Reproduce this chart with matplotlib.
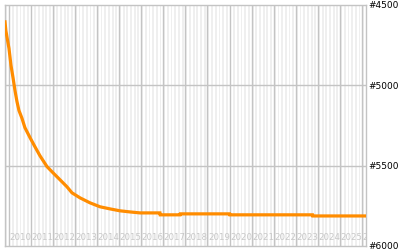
import numpy as np
from matplotlib import pyplot as plt

# rank history (decimal year, rank)
years = [2009.84, 2009.88, 2009.93, 2010.02, 2010.11, 2010.20, 2010.29, 2010.38,
         2010.47, 2010.61, 2010.74, 2010.97, 2011.19, 2011.42, 2011.74, 2012.01,
         2012.33, 2012.64, 2012.87, 2013.23, 2013.68, 2014.14, 2014.59, 2015.04,
         2015.50, 2015.95, 2016.85, 2016.86, 2017.76, 2017.77, 2020.0, 2020.01,
         2023.75, 2023.76, 2026.17]
ranks = [4605, 4660, 4700, 4770, 4875, 4950, 5031, 5100,
         5156, 5206, 5263, 5325, 5381, 5438, 5506, 5544,
         5588, 5631, 5669, 5700, 5731, 5756, 5769, 5781,
         5788, 5794, 5794, 5806, 5806, 5800, 5800, 5806,
         5806, 5813, 5813]
year_labels = [str(y) for y in range(2010, 2027)]
rank_ticks = [4500, 5000, 5500, 6000]

x0, x1 = 2009.84, 2026.17
grid_col = '#c4c4c4'

fig = plt.figure(figsize=(4, 2.5), dpi=100)
ax = fig.add_axes([0.0125, 0.016, 0.9025, 0.964])
ax.set_facecolor('white')

# alternating month stripes
m = np.floor(x0 * 12) / 12
k = int(round(m * 12))
while m < x1:
    if k % 2 == 0:
        ax.axvspan(m, m + 1 / 12, color='#efefef', lw=0, zorder=0)
    m += 1 / 12
    k += 1

for y in range(2010, 2027):
    ax.axvline(y, color=grid_col, lw=1, zorder=1)
for r in rank_ticks[1:-1]:
    ax.axhline(r, color=grid_col, lw=1, zorder=1)

for lab in year_labels:
    ax.text(int(lab) + 0.02, 5945, lab, color='#c8c8c8', fontsize=6.2,
            ha='left', va='center', zorder=2, clip_on=True)

ax.plot(years, ranks, color='#ff8c00', lw=2.3, zorder=3, solid_joinstyle='miter')

ax.set_xlim(x0, x1)
ax.set_ylim(6000, 4500)
ax.set_xticks([])
ax.yaxis.tick_right()
ax.set_yticks(rank_ticks)
ax.set_yticklabels(['#%d' % r for r in rank_ticks], fontsize=6.5)
ax.tick_params(axis='y', length=0, pad=2)
for s in ax.spines.values():
    s.set_color(grid_col)
    s.set_linewidth(1)

plt.savefig('out.png', dpi=100)
